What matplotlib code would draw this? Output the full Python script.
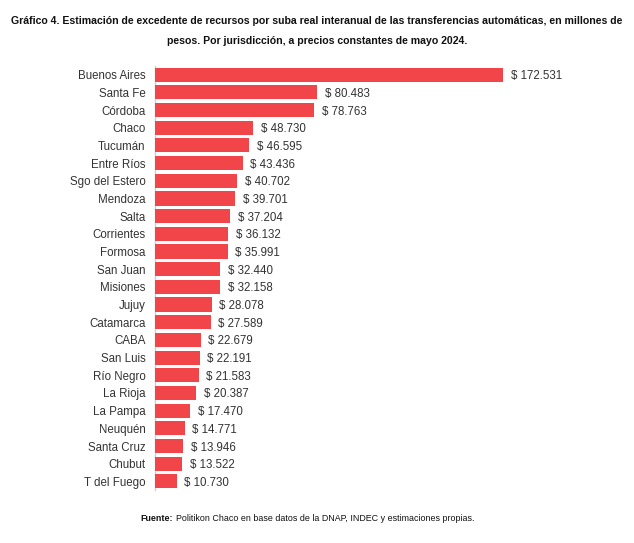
import matplotlib.pyplot as plt

plt.rcParams['font.family'] = ['Liberation Sans', 'DejaVu Sans']

# Data (millions of pesos)
provincias = ['Buenos Aires', 'Santa Fe', 'Córdoba', 'Chaco', 'Tucumán', 'Entre Ríos',
              'Sgo del Estero', 'Mendoza', 'Salta', 'Corrientes', 'Formosa', 'San Juan',
              'Misiones', 'Jujuy', 'Catamarca', 'CABA', 'San Luis', 'Río Negro',
              'La Rioja', 'La Pampa', 'Neuquén', 'Santa Cruz', 'Chubut', 'T del Fuego']
valores = [172531, 80483, 78763, 48730, 46595, 43436, 40702, 39701, 37204, 36132,
           35991, 32440, 32158, 28078, 27589, 22679, 22191, 21583, 20387, 17470,
           14771, 13946, 13522, 10730]


def fmt(v):
    return '$ ' + f'{v:,}'.replace(',', '.')


fig = plt.figure(figsize=(6.34, 5.43), dpi=100)
ax = fig.add_axes([0.2445, 0.0972, 0.7334, 0.7816])

y = range(len(provincias))
ax.barh(y, valores, height=0.8, color='#F2454A', zorder=3)
ax.set_ylim(len(provincias) - 0.5, -0.5)
ax.set_xlim(0, 230500)

for i, v in enumerate(valores):
    ax.text(v + 3800, i, fmt(v), va='center_baseline', ha='left', fontsize=8.3, color='#333333')

ax.set_yticks(list(y))
ax.set_yticklabels(provincias, fontsize=8.3, color='#333333')
ax.tick_params(axis='y', length=0, pad=7)
ax.set_xticks([])
for s in ['top', 'right', 'bottom']:
    ax.spines[s].set_visible(False)
ax.spines['left'].set_color('#d0d0d0')
ax.spines['left'].set_linewidth(1)

fig.text(0.5, 0.962, 'Gráfico 4. Estimación de excedente de recursos por suba real interanual de las '
         'transferencias automáticas, en millones de', ha='center', va='center',
         fontsize=7.6, fontweight='bold', color='#111111')
fig.text(0.5, 0.925, 'pesos. Por jurisdicción, a precios constantes de mayo 2024.',
         ha='center', va='center', fontsize=7.6, fontweight='bold', color='#111111')

t1 = fig.text(0.222, 0.046, 'Fuente:', ha='left', va='center', fontsize=6.4,
              fontweight='bold', color='#111111')
fig.canvas.draw()
bb = t1.get_window_extent()
x2 = fig.transFigure.inverted().transform((bb.x1, 0))[0]
fig.text(x2 + 0.004, 0.046, 'Politikon Chaco en base datos de la DNAP, INDEC y estimaciones propias.',
         ha='left', va='center', fontsize=6.4, color='#111111')

fig.savefig('out.png', dpi=100)
